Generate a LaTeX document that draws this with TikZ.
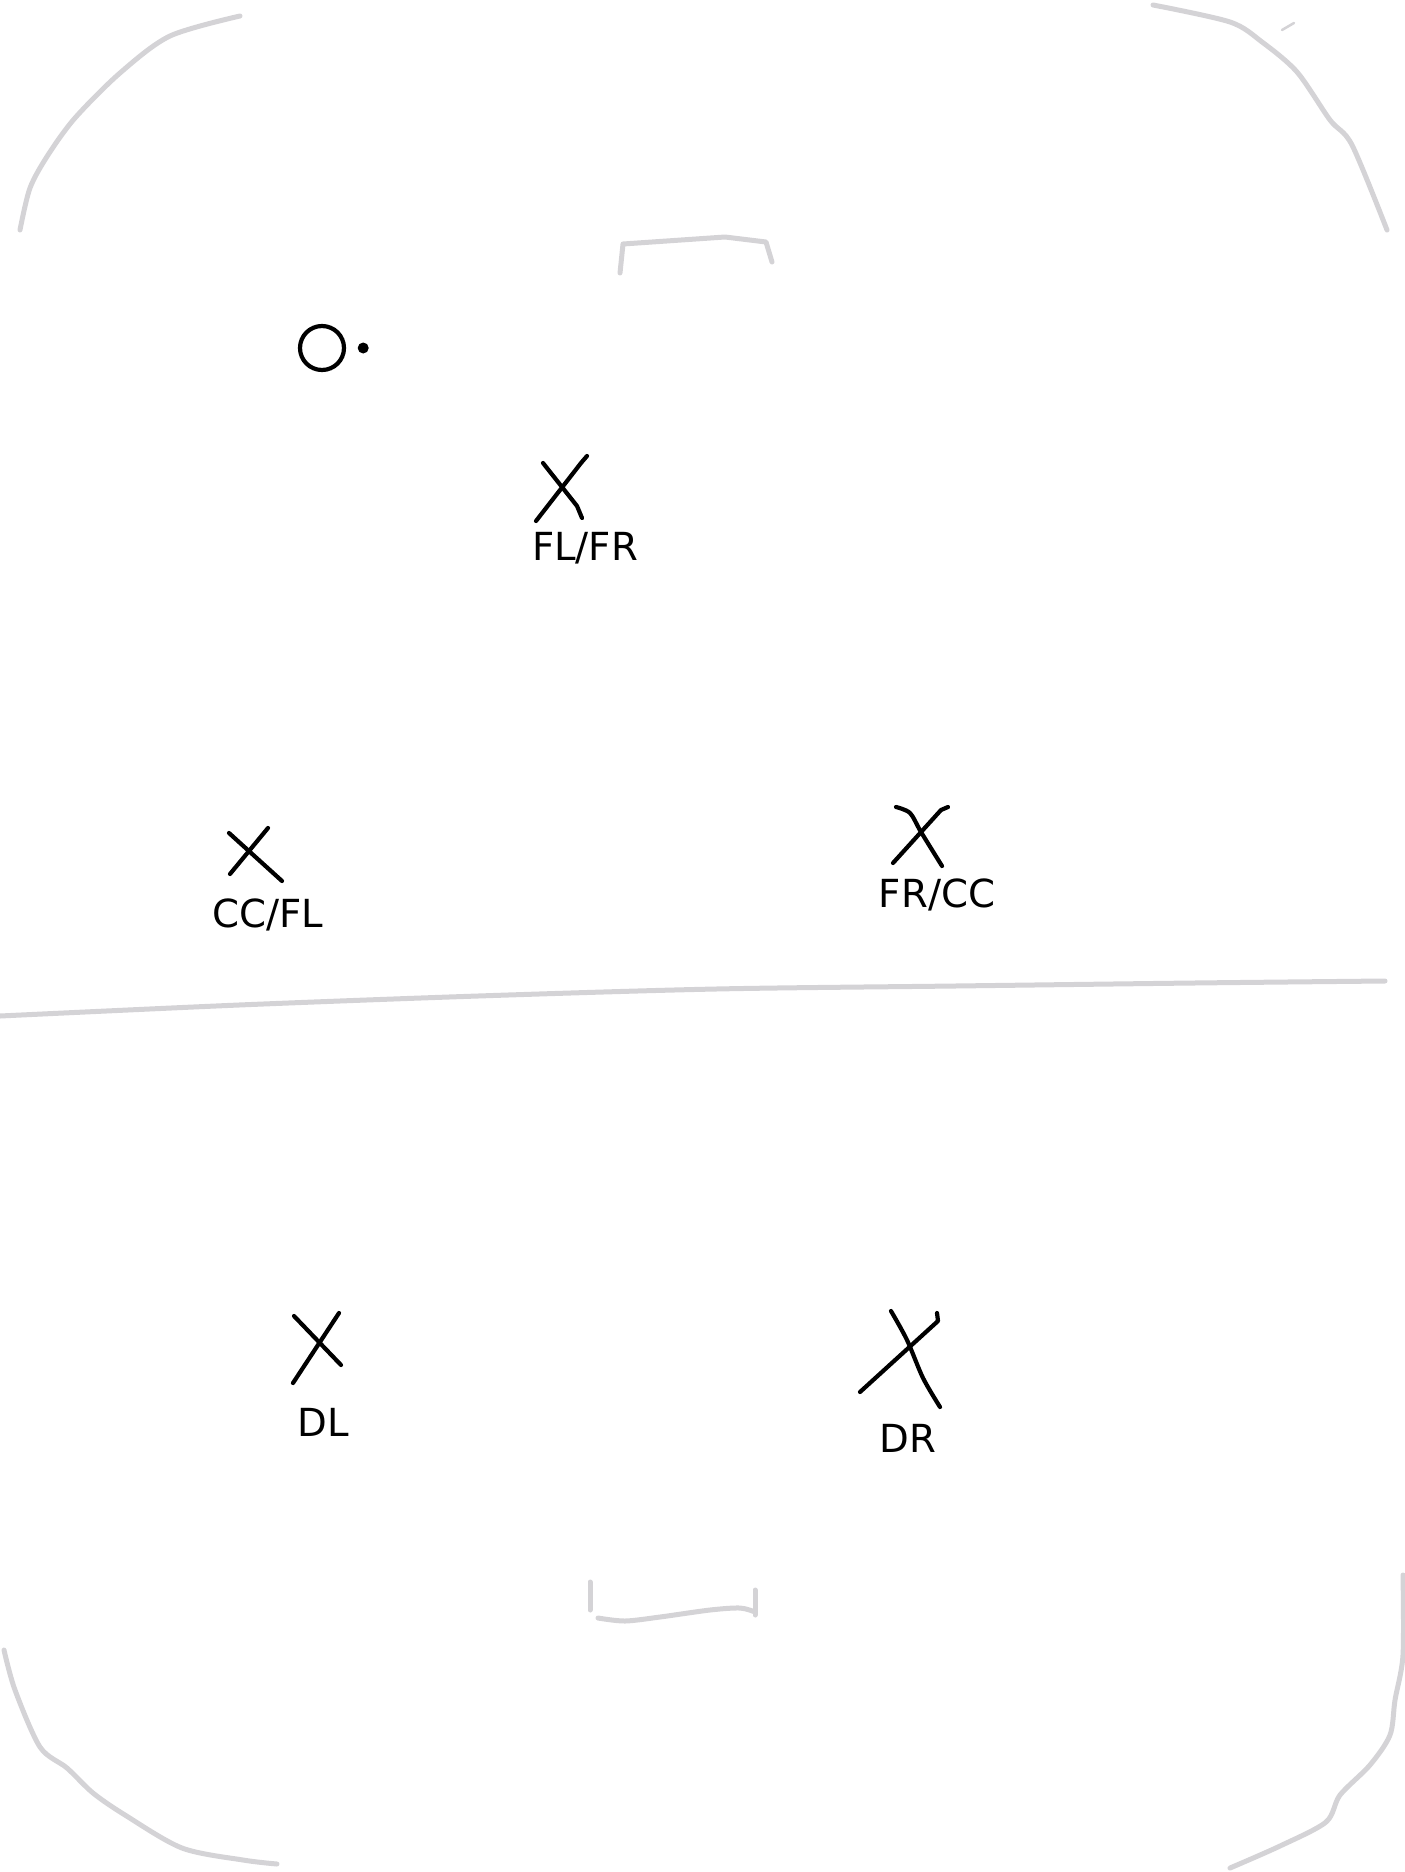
\documentclass[tikz,border=0pt]{standalone}
\usepackage{fontspec}
\setmainfont{DejaVu Sans}
\usetikzlibrary{positioning}
\definecolor{boards}{HTML}{D4D3D6}
\definecolor{marker}{HTML}{000000}

\begin{document}
\begin{tikzpicture}[x=0.1mm, y=-0.1mm, line cap=round, line join=round,
    rink/.style={draw=boards, line width=0.5mm},
    skater/.style={draw=marker, line width=0.42mm},
    tag/.style={font=\fontsize{11}{13}\selectfont, text=marker, inner sep=0pt}]
  \useasboundingbox (0,0) rectangle (1404,1872);

  % boards and lines
  \draw[rink] plot[smooth] coordinates {(240,16) (170,36) (120,73) (75,118) (48,155) (30,188) (20,230)};
  \draw[rink] plot[smooth] coordinates {(1153,5) (1230,22) (1262,42) (1297,72) (1330,120) (1352,145) (1387,230)};
  \draw[draw=boards, line width=0.25mm] (1282,30) -- (1294,23);
  \draw[rink] plot[smooth] coordinates {(4,1650) (15,1690) (40,1747) (67,1768) (93,1793) (125,1815) (182,1848) (243,1860) (277,1864)};
  \draw[rink] plot[smooth] coordinates {(1403,1575) (1403,1655) (1395,1700) (1390,1735) (1370,1765) (1340,1795) (1326,1822) (1280,1846) (1230,1868)};
  \draw[rink] plot[smooth] coordinates {(0,1016) (239,1005) (478,996) (716,989) (955,986) (1194,983) (1385,981)};
  \draw[rink] (620,273) -- (623,244) -- (725,237) -- (766,242) -- (772,262);
  \draw[rink] (590,1582) -- (590,1610);
  \draw[rink] plot[smooth] coordinates {(598,1618) (625,1621) (660,1617) (710,1610) (740,1608) (755,1612)};
  \draw[rink] (755,1590) -- (755,1615);

  % puck
  \node[circle, draw=marker, line width=0.42mm, inner sep=0pt, minimum size=4.4mm] (puck) at (322,348) {};
  \node[circle, fill=marker, inner sep=0pt, minimum size=1.1mm, right=3.5mm of puck.center] (puckdot) {};

  % skaters
  \draw[skater] (543,463) -- (577,506) -- (582,518);
  \draw[skater] (587,456) -- (581,463) -- (536,521);
  \node[tag] (flfr) at (585,548) {FL/FR};

  \draw[skater] (229,833) -- (282,881);
  \draw[skater] (268,828) -- (230,874);
  \node[tag] (ccfl) at (268,915) {CC/FL};

  \draw[skater] plot[smooth] coordinates {(896,807) (910,813) (921,832) (942,866)};
  \draw[skater] (948,807) -- (941,810) -- (893,863);
  \node[tag] (frcc) at (937,895) {FR/CC};

  \draw[skater] (294,1316) -- (341,1365);
  \draw[skater] (339,1313) -- (293,1383);
  \node[tag] (dl) at (323,1422) {DL};

  \draw[skater] plot[smooth] coordinates {(891,1311) (907,1340) (923,1378) (940,1407)};
  \draw[skater] (937,1313) -- (938,1321) -- (860,1392);
  \node[tag] (dr) at (908,1438) {DR};
\end{tikzpicture}
\end{document}
